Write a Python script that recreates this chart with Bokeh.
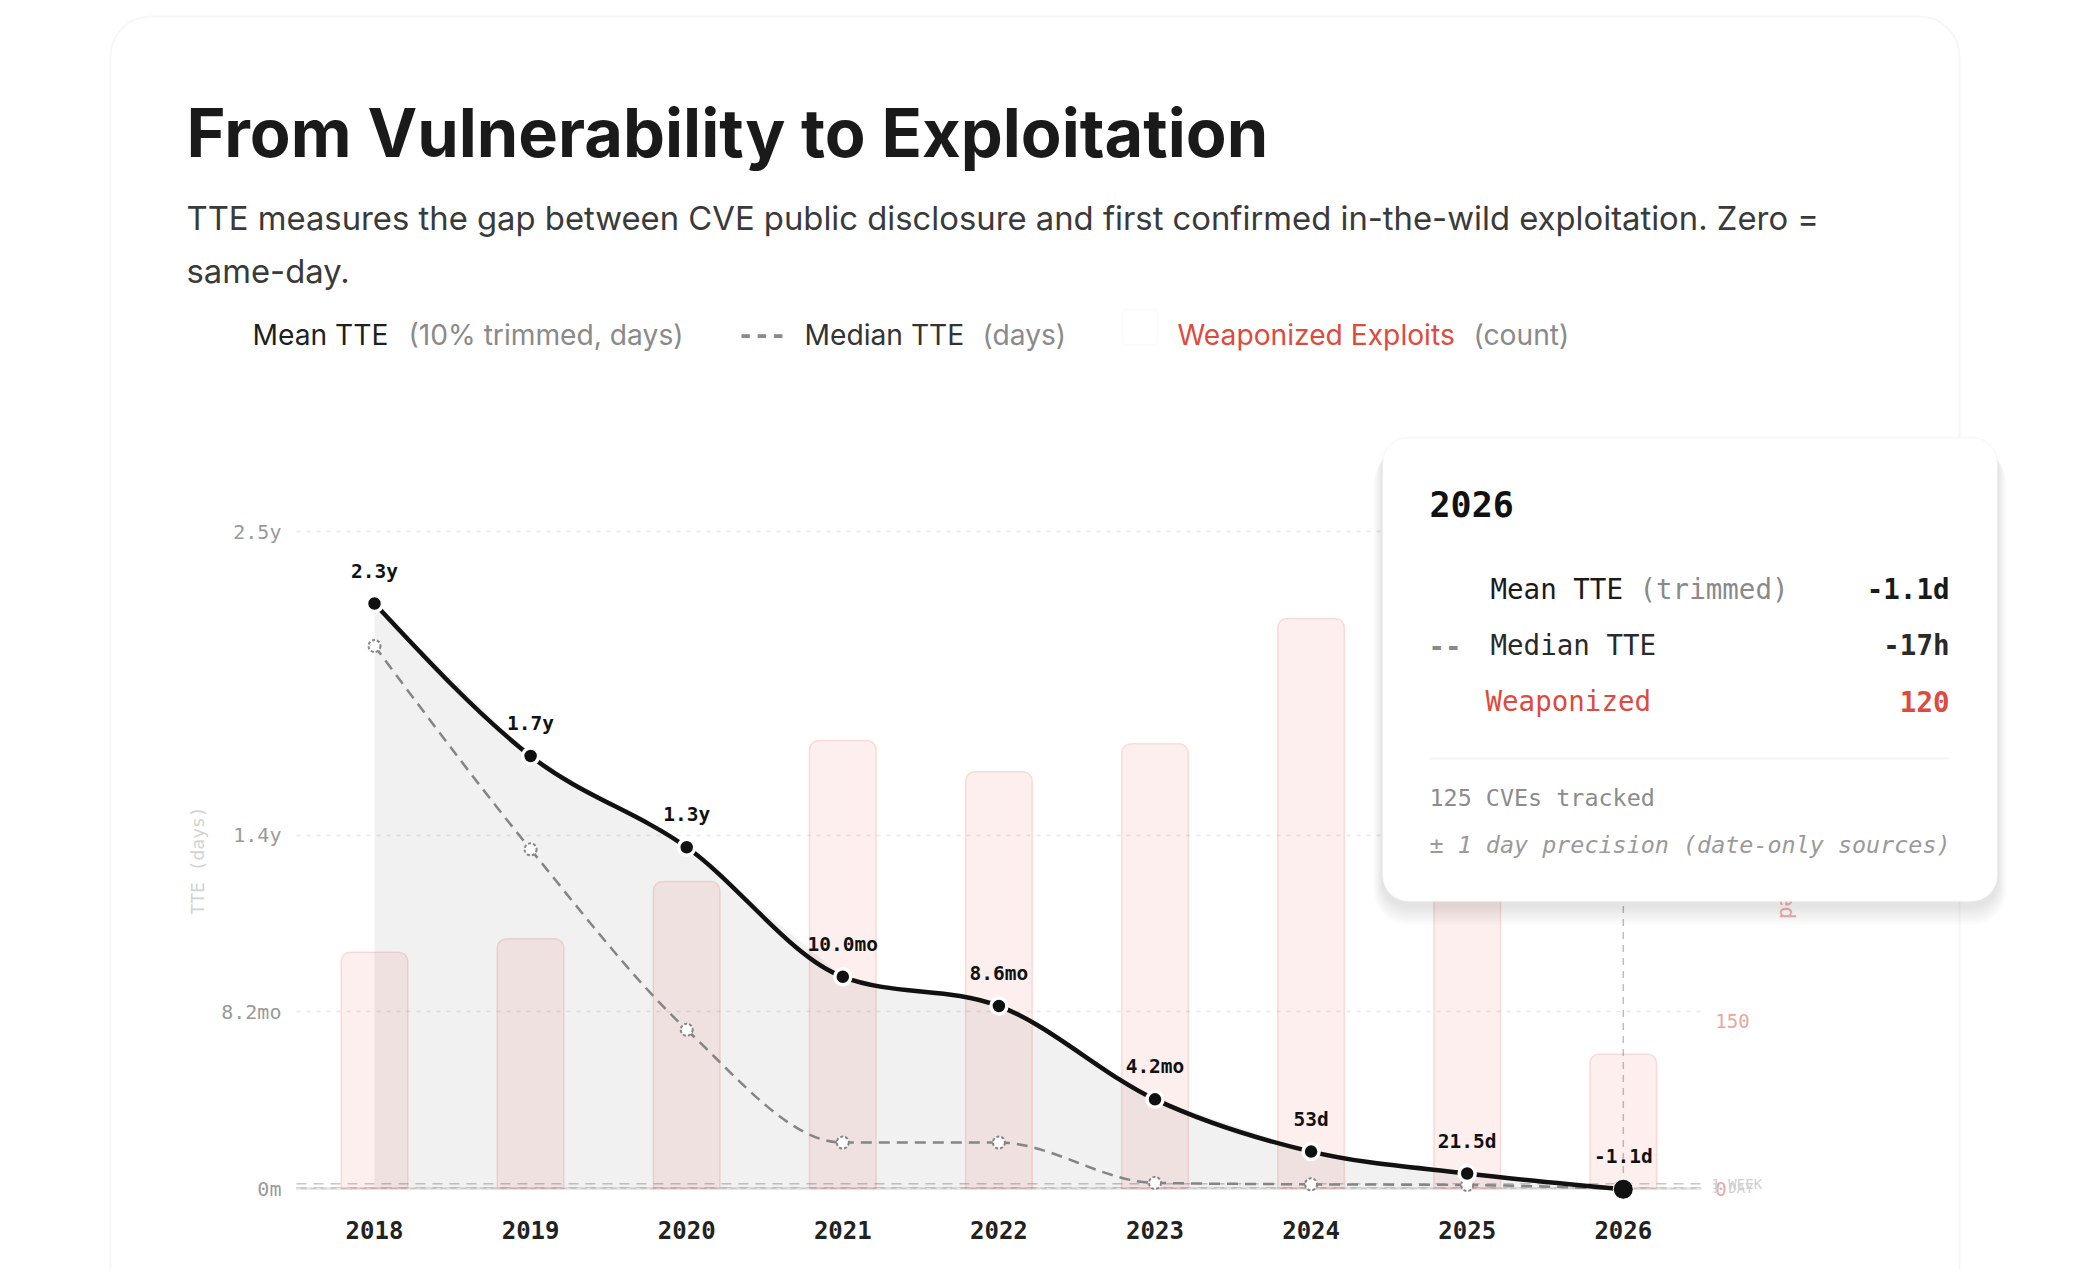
import numpy as np
from bokeh.plotting import figure
from bokeh.models import (Range1d, LinearAxis, Label, LabelSet, BoxAnnotation,
                          FixedTicker, ColumnDataSource)
from bokeh.core.properties import value
from bokeh.embed import file_html
from bokeh.resources import INLINE

# ---------------- data ----------------
years = [2018, 2019, 2020, 2021, 2022, 2023, 2024, 2025, 2026]
mean_days = [840, 621, 490, 304, 262, 128, 53, 21.5, -1.1]
median_days = [779, 487, 228, 66, 66, 8, 6, 5, -0.7]
weaponized = [211, 223, 274, 400, 372, 397, 509, 460, 120]
mean_labels = ["2.3y", "1.7y", "1.3y", "10.0mo", "8.6mo", "4.2mo", "53d", "21.5d", "-1.1d"]
y_tick_values = [0, 254, 507, 943]
y_tick_labels = ["0m", "8.2mo", "1.4y", "2.5y"]
count_ticks = [0, 150, 300, 450, 600]
ref_days = [7, 1]
ref_labels = ["1 WEEK", "1 DAY"]

title_text = "From Vulnerability to Exploitation"
subtitle_lines = ["TTE measures the gap between CVE public disclosure and first confirmed in-the-wild exploitation. Zero =",
                  "same-day."]
tip_year = "2026"
tip_rows = [("Mean TTE", "(trimmed)", "-1.1d"), ("Median TTE", "", "-17h"), ("Weaponized", "", "120")]
tip_foot = ["125 CVEs tracked", "\u00b1 1 day precision (date-only sources)"]

# ---------------- layout constants ----------------
INTER = "Inter"
MONO = "DejaVu Sans Mono"
RED = "#dd4b3e"
W, H = 2078, 1270
X2018, XPX = 374.0, 156.1       # canvas px of first year, px per year
Y0, YPX, CPX = 1188.0, 0.6964, 1.12   # canvas px of zero, px per day, px per count
PLOT_X = (2017.5, 2026.5)
PLOT_Y = (-15.0, 990.0)


def xd(px):
    return years[0] + (px - X2018) / XPX


def yd(py):
    return (Y0 - py) / YPX


def cd(py):
    return (Y0 - py) / CPX


p = figure(width=W, height=H, output_backend="svg", toolbar_location=None,
           x_range=Range1d(xd(0), xd(W)), y_range=Range1d(yd(H), yd(0)),
           min_border=0)
p.title.visible = False
p.extra_x_ranges = {"px": Range1d(0, W)}
p.extra_y_ranges = {"py": Range1d(H, 0), "count": Range1d(cd(H), cd(0))}
p.outline_line_color = None
p.background_fill_color = "white"
p.border_fill_color = "white"


def style_axis(ax):
    ax.axis_line_color = None
    ax.major_tick_line_color = None
    ax.minor_tick_line_color = None
    ax.major_tick_out = 0
    ax.major_tick_in = 0
    ax.minor_tick_out = 0
    ax.minor_tick_in = 0


# bottom axis
xa = p.xaxis[0]
style_axis(xa)
xa.fixed_location = PLOT_Y[0]
xa.bounds = PLOT_X
xa.ticker = FixedTicker(ticks=years)
xa.major_label_overrides = {y: str(y) for y in years}
xa.major_label_text_font = MONO
xa.major_label_text_font_size = "24px"
xa.major_label_text_font_style = "bold"
xa.major_label_text_color = "#222222"
xa.major_label_standoff = 22

# left axis
ya = p.yaxis[0]
style_axis(ya)
ya.fixed_location = PLOT_X[0]
ya.bounds = (-1, y_tick_values[-1] + 1)
ya.ticker = FixedTicker(ticks=y_tick_values)
ya.major_label_overrides = dict(zip(y_tick_values, y_tick_labels))
ya.major_label_text_font = MONO
ya.major_label_text_font_size = "20px"
ya.major_label_text_color = "#9a9a9a"
ya.major_label_standoff = 15
ya.axis_label = "TTE (days)"
ya.axis_label_text_font = MONO
ya.axis_label_text_font_size = "18px"
ya.axis_label_text_font_style = "normal"
ya.axis_label_text_color = "#d2d2d2"
ya.axis_label_standoff = 10

# right axis (count)
raxis = LinearAxis(y_range_name="count", ticker=FixedTicker(ticks=count_ticks))
style_axis(raxis)
raxis.fixed_location = PLOT_X[1]
raxis.bounds = (-6, 600)
raxis.major_label_text_font = MONO
raxis.major_label_text_font_size = "19px"
raxis.major_label_text_color = "#eaa7a0"
raxis.major_label_standoff = 14
raxis.axis_label = "Weaponized"
raxis.axis_label_text_font = MONO
raxis.axis_label_text_font_size = "21px"
raxis.axis_label_text_font_style = "normal"
raxis.axis_label_text_color = "#efb3ad"
raxis.axis_label_standoff = 22
p.add_layout(raxis, "right")

# grid
p.xgrid.visible = False
p.ygrid.ticker = ya.ticker
p.ygrid.grid_line_color = "#e8e8e8"
p.ygrid.grid_line_dash = "4 6"
p.ygrid.grid_line_width = 1.5
grid_ok = True
try:
    p.ygrid.cross_bounds = PLOT_X
except Exception:
    grid_ok = False
if not grid_ok:
    p.ygrid.visible = False
    gt = y_tick_values[1:]
    p.segment(x0=[PLOT_X[0]] * len(gt), x1=[PLOT_X[1]] * len(gt), y0=gt, y1=gt,
              line_color="#e8e8e8", line_width=1.5, line_dash="4 6", level="underlay")

# card
p.add_layout(BoxAnnotation(left=110, right=1959, top=16, bottom=1700, x_range_name="px", y_range_name="py",
                           fill_color=None, line_color="#e4e4e4", line_width=2,
                           border_radius=40, level="underlay"))

# reference lines
p.segment(x0=[PLOT_X[0]], x1=[PLOT_X[1]], y0=[0], y1=[0], line_color="#cfcfcf", line_width=2,
          level="underlay")
p.segment(x0=[PLOT_X[0]] * len(ref_days), x1=[PLOT_X[1]] * len(ref_days), y0=ref_days, y1=ref_days,
          line_color="#c8c8c8", line_width=1.5, line_dash="10 7", level="underlay")
p.segment(x0=[years[-1]], x1=[years[-1]], y0=[PLOT_Y[0]], y1=[PLOT_Y[1]], line_color="#bdbdbd",
          line_width=1.5, line_dash="7 6", level="underlay")

# bars
p.vbar(x=years, top=weaponized, bottom=0, width=0.427, y_range_name="count",
       fill_color=RED, fill_alpha=0.09, line_color=RED, line_alpha=0.16, line_width=1.5,
       border_radius=(9, 9, 0, 0))

# area under mean
p.varea(x=years, y1=[0] * len(years), y2=mean_days, fill_color="black", fill_alpha=0.055)


def monotone_tangents(x, y):
    x = np.asarray(x, float)
    y = np.asarray(y, float)
    h = np.diff(x)
    s = np.diff(y) / h
    n = len(x)
    t = np.zeros(n)
    for i in range(1, n - 1):
        h0, h1, s0, s1 = h[i - 1], h[i], s[i - 1], s[i]
        pp = (s0 * h1 + s1 * h0) / (h0 + h1)
        t[i] = (np.sign(s0) + np.sign(s1)) * min(abs(s0), abs(s1), 0.5 * abs(pp))
    t[0] = (3 * s[0] - t[1]) / 2
    t[-1] = (3 * s[-1] - t[-2]) / 2
    return t


def bezier_source(x, y):
    x = np.asarray(x, float)
    y = np.asarray(y, float)
    t = monotone_tangents(x, y)
    dx = np.diff(x) / 3.0
    return ColumnDataSource(dict(
        x0=x[:-1], y0=y[:-1], x1=x[1:], y1=y[1:],
        cx0=x[:-1] + dx, cy0=y[:-1] + dx * t[:-1],
        cx1=x[1:] - dx, cy1=y[1:] - dx * t[1:]))


p.bezier(x0="x0", y0="y0", x1="x1", y1="y1", cx0="cx0", cy0="cy0", cx1="cx1", cy1="cy1",
         source=bezier_source(years, median_days), line_color="#858585", line_width=2.5, line_dash="11 7")
p.scatter(x=years, y=median_days, size=12, fill_color="white", line_color="#858585",
          line_width=2, line_dash="3 2")

p.bezier(x0="x0", y0="y0", x1="x1", y1="y1", cx0="cx0", cy0="cy0", cx1="cx1", cy1="cy1",
         source=bezier_source(years, mean_days), line_color="#111111", line_width=4.5)
p.scatter(x=years[:-1], y=mean_days[:-1], size=16, fill_color="#111111", line_color="white", line_width=3.5)
p.scatter(x=[years[-1]], y=[mean_days[-1]], size=20, fill_color="#111111", line_color="white", line_width=1)

lab_src = ColumnDataSource(dict(x=years, y=mean_days, t=mean_labels))
p.add_layout(LabelSet(x="x", y="y", text="t", source=lab_src, y_offset=26, text_align="center",
                      text_baseline="alphabetic", text_font=value(MONO), text_font_size=value("19.5px"),
                      text_font_style=value("bold"), text_color=value("#111111")))

for d, t in zip(ref_days, ref_labels):
    p.add_layout(Label(x=1711, y=d, x_range_name="px", text=t, text_font=MONO, text_font_size="14px",
                       text_color="#d0d0d0", text_baseline="middle"))


def lab(x, y, text, size, color, font=INTER, style="normal", align="left", baseline="alphabetic",
        level="annotation"):
    p.add_layout(Label(x=x, y=y, x_range_name="px", y_range_name="py", text=text, text_font=font,
                       text_font_size=f"{size}px", text_color=color, text_font_style=style,
                       text_align=align, text_baseline=baseline, level=level))


# title + subtitle
lab(186, 132, title_text, 66.7, "#1a1a1a", style="bold")
lab(186, 217, subtitle_lines[0], 32.8, "#3a3a3a")
lab(186, 270, subtitle_lines[1], 32.8, "#3a3a3a")

# legend
LY = 334.5
LF = 28.2
lab(252, LY, "Mean TTE", LF, "#1f1f1f")
lab(408, LY, "(10% trimmed, days)", LF, "#8a8a8a")
lab(737, LY - 1, "---", 27, "#8a8a8a", font=MONO, style="bold")
lab(804, LY, "Median TTE", LF, "#333333")
lab(982, LY, "(days)", LF, "#8a8a8a")
p.add_layout(BoxAnnotation(left=1122, right=1157, top=309, bottom=344, x_range_name="px", y_range_name="py",
                           fill_color="white", line_color="#f0f0f0", line_width=1.5, border_radius=4))
lab(1177, LY, "Weaponized Exploits", LF, RED)
lab(1473, LY, "(count)", LF, "#8a8a8a")

# tooltip
TL, TR, TT, TB = 1382, 1997, 437, 901
for k in range(1, 10):
    p.add_layout(BoxAnnotation(left=TL - k, right=TR + k, top=TT + 2 + k, bottom=TB + 4 + 2.2 * k,
                               x_range_name="px", y_range_name="py", fill_color="black", fill_alpha=0.011,
                               line_color=None, border_radius=26 + k, level="overlay"))
p.add_layout(BoxAnnotation(left=TL, right=TR, top=TT, bottom=TB, x_range_name="px", y_range_name="py",
                           fill_color="white", fill_alpha=1.0, line_color="#e8e8e8", line_width=1.5,
                           border_radius=26, level="overlay"))
lab(1429, 503, tip_year, 35, "#111111", font=MONO, style="bold", baseline="middle", level="overlay")
rows_y = [588.5, 644.5, 700.5]
rows_x = [1490, 1490, 1485]
row_colors = ["#1a1a1a", "#2a2a2a", RED]
CW = 27.5 * 0.602
for (name, extra, val), rx, ry, col in zip(tip_rows, rows_x, rows_y, row_colors):
    lab(rx, ry, name, 27.5, col, font=MONO, baseline="middle", level="overlay")
    if extra:
        lab(rx + CW * (len(name) + 1), ry, extra, 27.5, "#8a8a8a", font=MONO, baseline="middle",
            level="overlay")
    lab(1949, ry, val, 27.5, col, font=MONO, style="bold", align="right", baseline="middle", level="overlay")
lab(1428, 644.5, "--", 27.5, "#8a8a8a", font=MONO, style="bold", baseline="middle", level="overlay")
p.add_layout(BoxAnnotation(left=1429, right=1949, top=757, bottom=759, x_range_name="px", y_range_name="py",
                           fill_color="#e6e6e6", line_color=None, level="overlay"))
lab(1429, 797, tip_foot[0], 23.4, "#8c8c8c", font=MONO, baseline="middle", level="overlay")
lab(1429, 844, tip_foot[1], 23.4, "#9a9a9a", font=MONO, style="italic", baseline="middle", level="overlay")

open("out.html", "w").write(file_html(p, INLINE))
